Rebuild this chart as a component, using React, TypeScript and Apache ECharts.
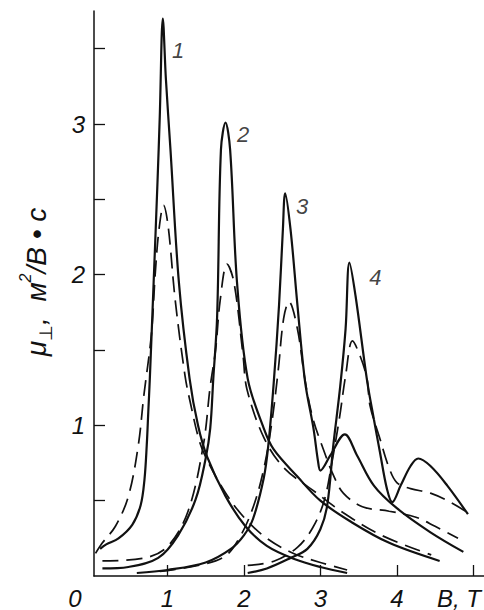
import React, { useEffect, useRef } from "react";
import * as echarts from "echarts";

// ---- data (B in T, mobility in m^2/(V*s)) ----
const solid1: number[][] = [[0.12,0.18],[0.2,0.21],[0.36,0.25],[0.54,0.34],[0.65,0.47],[0.7,0.64],[0.73,0.87],[0.75,1.09],[0.77,1.31],[0.82,1.95],[0.87,2.61],[0.9,3.05],[0.94,3.7],[0.98,3.3],[1.04,2.83],[1.15,1.95],[1.29,1.31],[1.4,1.0],[1.52,0.79],[1.76,0.53],[2.02,0.33],[2.3,0.2],[2.65,0.115],[3.0,0.06],[3.35,0.02]];
const dashed1: number[][] = [[0.06,0.15],[0.15,0.22],[0.32,0.33],[0.49,0.53],[0.62,0.87],[0.69,1.19],[0.79,1.6],[0.84,2.0],[0.89,2.3],[0.95,2.46],[1.01,2.32],[1.1,1.84],[1.23,1.33],[1.3,1.15],[1.41,0.91],[1.5,0.79],[1.75,0.56],[2.0,0.39],[2.3,0.25],[2.65,0.15],[3.0,0.09],[3.35,0.04]];
const solid2: number[][] = [[0.15,0.05],[0.49,0.06],[0.88,0.12],[1.14,0.27],[1.37,0.51],[1.5,0.78],[1.56,0.98],[1.6,1.31],[1.65,1.72],[1.7,2.83],[1.76,3.01],[1.82,2.83],[1.91,1.95],[2.05,1.31],[2.26,0.98],[2.39,0.84],[2.7,0.66],[3.0,0.5],[3.4,0.36],[3.9,0.22],[4.56,0.1]];
const dashed2: number[][] = [[0.15,0.1],[0.71,0.12],[1.01,0.2],[1.27,0.43],[1.47,0.87],[1.56,1.26],[1.63,1.5],[1.69,1.83],[1.78,2.07],[1.87,1.95],[1.99,1.46],[2.04,1.24],[2.26,0.92],[2.52,0.72],[2.9,0.57],[3.3,0.42],[3.8,0.27],[4.45,0.14]];
const solid3: number[][] = [[0.6,0.02],[1.0,0.04],[1.5,0.09],[1.83,0.18],[2.0,0.27],[2.12,0.38],[2.26,0.65],[2.32,0.87],[2.39,1.28],[2.46,1.8],[2.51,2.3],[2.54,2.54],[2.61,2.3],[2.7,1.8],[2.8,1.29],[2.91,0.98],[2.97,0.76],[3.0,0.7],[3.13,0.8],[3.32,0.94],[3.48,0.8],[3.7,0.6],[4.0,0.45],[4.44,0.29],[4.87,0.16]];
const dashed3: number[][] = [[0.9,0.03],[1.4,0.07],[1.75,0.13],[1.96,0.27],[2.13,0.47],[2.26,0.71],[2.36,1.0],[2.45,1.37],[2.52,1.71],[2.59,1.82],[2.7,1.64],[2.8,1.3],[2.9,1.05],[3.04,0.84],[3.17,0.67],[3.3,0.55],[3.55,0.46],[3.9,0.43],[4.25,0.39],[4.5,0.33],[4.8,0.25]];
const solid4: number[][] = [[2.05,0.02],[2.3,0.05],[2.61,0.12],[2.83,0.18],[3.0,0.31],[3.09,0.47],[3.17,0.87],[3.26,1.26],[3.33,1.64],[3.38,2.08],[3.46,1.86],[3.61,1.3],[3.7,1.04],[3.78,0.82],[3.87,0.58],[3.94,0.49],[4.05,0.6],[4.18,0.73],[4.28,0.78],[4.44,0.73],[4.66,0.6],[4.93,0.41]];
const dashed4: number[][] = [[2.05,0.07],[2.4,0.1],[2.7,0.19],[2.9,0.32],[3.05,0.5],[3.15,0.75],[3.25,1.05],[3.33,1.33],[3.42,1.56],[3.52,1.46],[3.61,1.31],[3.65,1.13],[3.78,0.91],[3.89,0.73],[4.0,0.62],[4.18,0.58],[4.44,0.55],[4.7,0.49],[4.93,0.42]];

const curveLabels: string[] = ["1", "2", "3", "4"];
const curveLabelPos: number[][] = [[1.14,3.49],[1.99,2.93],[2.76,2.45],[3.72,1.98]];

const xTicks: number[] = [1, 2, 3, 4, 5];
const xTickLabels: number[] = [1, 2, 3, 4];
const yTicks: number[] = [0.5, 1, 1.5, 2, 2.5, 3, 3.5];
const yTickLabels: number[] = [1, 2, 3];

const FONT = "Liberation Sans";
const INK = "#111";

export default function App() {
  const ref = useRef<HTMLDivElement>(null);
  useEffect(() => {
    if (!ref.current) return;
    const chart = echarts.init(ref.current, undefined, { renderer: "svg" });
    const solidStyle = { color: INK, width: 2.2, type: "solid" as const };
    const dashStyle = { color: INK, width: 1.7, type: [16, 8] as any };
    const mk = (data: number[][], dashed: boolean) => ({
      type: "line",
      data,
      showSymbol: false,
      symbol: "none",
      smooth: 0.35,
      lineStyle: dashed ? dashStyle : solidStyle,
      silent: true,
    });
    const option: any = {
      animation: false,
      backgroundColor: "#fff",
      grid: { left: 94, right: 0, top: 11, bottom: 32.5, containLabel: false },
      xAxis: {
        type: "value",
        min: 0.04,
        max: 5.14,
        axisLine: { show: true, lineStyle: { color: INK, width: 1.5 } },
        axisTick: { show: true, inside: true, length: 11, customValues: xTicks, lineStyle: { color: INK, width: 1.3 } },
        axisLabel: {
          customValues: xTickLabels,
          fontSize: 24,
          fontStyle: "italic",
          fontFamily: FONT,
          color: INK,
          margin: 10,
        },
        splitLine: { show: false },
      },
      yAxis: {
        type: "value",
        min: 0,
        max: 3.75,
        axisLine: { show: true, lineStyle: { color: INK, width: 1.5 } },
        axisTick: { show: true, inside: true, length: 11, customValues: yTicks, lineStyle: { color: INK, width: 1.3 } },
        axisLabel: {
          customValues: yTickLabels,
          fontSize: 24,
          fontStyle: "italic",
          fontFamily: FONT,
          color: INK,
          margin: 9,
        },
        splitLine: { show: false },
      },
      series: [
        mk(solid1, false), mk(dashed1, true),
        mk(solid2, false), mk(dashed2, true),
        mk(solid3, false), mk(dashed3, true),
        mk(solid4, false), mk(dashed4, true),
        {
          type: "scatter",
          symbolSize: 0,
          silent: true,
          data: curveLabelPos.map((p, i) => ({ value: p, name: curveLabels[i] })),
          label: {
            show: true,
            position: "inside",
            formatter: (p: any) => p.name,
            fontSize: 22,
            fontStyle: "italic",
            fontFamily: FONT,
            color: INK,
          },
        },
      ],
      graphic: [
        {
          type: "text",
          x: 75,
          y: 598,
          style: { text: "0", fontSize: 24, fontStyle: "italic", fontFamily: FONT, fill: INK, align: "center", verticalAlign: "middle" },
        },
        {
          type: "text",
          x: 437,
          y: 598,
          style: { text: "B, T", fontSize: 24, fontStyle: "italic", fontFamily: FONT, fill: INK, align: "left", verticalAlign: "middle" },
        },
        {
          type: "text",
          x: 36,
          y: 282,
          rotation: Math.PI / 2,
          style: {
            text: "{a|μ}{sub|⊥}{a|,  м}{sup|2}{a|/В • с}",
            align: "center",
            verticalAlign: "middle",
            fill: INK,
            rich: {
              a: { fontSize: 28, fontStyle: "italic", fontFamily: FONT, fill: INK, lineHeight: 38, verticalAlign: "middle" },
              sub: { fontSize: 18, fontFamily: FONT, fill: INK, lineHeight: 19, verticalAlign: "bottom" },
              sup: { fontSize: 16, fontStyle: "italic", fontFamily: FONT, fill: INK, lineHeight: 17, verticalAlign: "top" },
            },
          },
        },
      ],
    };
    chart.setOption(option);
    return () => chart.dispose();
  }, []);
  return <div ref={ref} style={{ position: "fixed", left: 0, top: 0, width: 484, height: 610, background: "#fff" }} />;
}
